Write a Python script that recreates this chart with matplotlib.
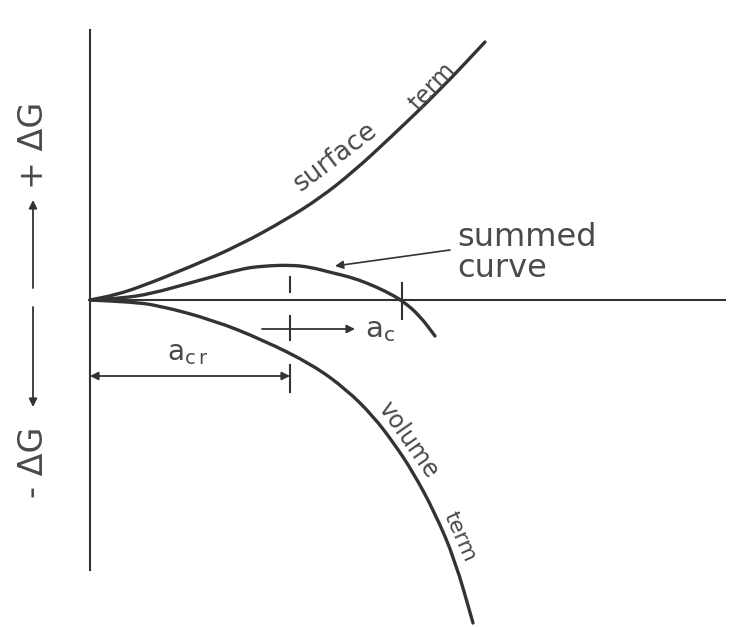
import matplotlib
matplotlib.use("Agg")
import matplotlib.pyplot as plt
from matplotlib.path import Path
from matplotlib.patches import PathPatch

# Free energy of an embryo vs. radius (arbitrary units, origin at axis crossing)
surface_r = [0, 0.25, 0.50, 1.00, 1.50, 1.97, 2.30, 2.63, 3.00, 3.50, 3.95]
surface_g = [0, 0.05, 0.13, 0.33, 0.55, 0.81, 1.02, 1.28, 1.62, 2.10, 2.58]

volume_r = [0, 0.40, 0.67, 1.23, 1.73, 2.23, 2.57, 2.83, 3.03, 3.23, 3.45, 3.65, 3.83]
volume_g = [0, -0.02, -0.05, -0.20, -0.40, -0.65, -0.90, -1.16, -1.42, -1.72, -2.13, -2.60, -3.23]

summed_r = [0, 0.33, 0.60, 1.00, 1.50, 1.73, 2.00, 2.20, 2.43, 2.60, 2.77, 2.95, 3.13, 3.30, 3.45]
summed_g = [0, 0.02, 0.06, 0.17, 0.31, 0.34, 0.35, 0.33, 0.27, 0.23, 0.17, 0.09, -0.01, -0.16, -0.36]

a_cr = 2.0     # critical radius (maximum of summed curve)
a_c = 3.12     # radius where summed curve crosses zero

ink = "#333333"
txt = "#4a4a4a"


def smooth_path(xs, ys):
    # quadratic bezier through the midpoints, using the read points as controls
    pts = list(zip(xs, ys))
    verts = [pts[0]]
    codes = [Path.MOVETO]
    mid = lambda a, b: ((a[0] + b[0]) / 2, (a[1] + b[1]) / 2)
    verts.append(mid(pts[0], pts[1]))
    codes.append(Path.LINETO)
    for i in range(1, len(pts) - 1):
        verts += [pts[i], mid(pts[i], pts[i + 1])]
        codes += [Path.CURVE3, Path.CURVE3]
    verts.append(pts[-1])
    codes.append(Path.LINETO)
    return Path(verts, codes)


fig = plt.figure(figsize=(7.37, 6.27), dpi=100)
ax = fig.add_axes([0, 0, 1, 1])
ax.set_xlim(-0.9, 6.47)
ax.set_ylim(-3.27, 3.0)
ax.axis("off")

# axes
ax.plot([0, 6.35], [0, 0], color=ink, lw=1.5)
ax.plot([0, 0], [-2.7, 2.7], color=ink, lw=1.5)

# curves
for r, g in [(surface_r, surface_g), (volume_r, volume_g), (summed_r, summed_g)]:
    ax.add_patch(PathPatch(smooth_path(r, g), fill=False, edgecolor=ink,
                           lw=2.4, capstyle="round", joinstyle="round"))

# markers for a_cr
ax.plot([a_cr, a_cr], [0.08, 0.23], color=ink, lw=1.5)
ax.plot([a_cr, a_cr], [-0.16, -0.40], color=ink, lw=1.5)
ax.plot([a_cr, a_cr], [-0.65, -0.92], color=ink, lw=1.5)
ax.annotate("", xy=(0, -0.76), xytext=(a_cr, -0.76),
            arrowprops=dict(arrowstyle="<|-|>", color=ink, lw=1.3,
                            shrinkA=0, shrinkB=0, mutation_scale=12))
ax.text(a_cr / 2 - 0.02, -0.53, r"$\mathregular{a_{c\,r}}$", color=txt,
        fontsize=20, ha="center", va="center")

# marker for a_c
ax.plot([a_c, a_c], [0.17, -0.19], color=ink, lw=1.5)
ax.annotate("", xy=(2.65, -0.29), xytext=(1.72, -0.29),
            arrowprops=dict(arrowstyle="-|>", color=ink, lw=1.3,
                            shrinkA=0, shrinkB=0, mutation_scale=12))
ax.text(2.75, -0.30, r"$\mathregular{a_c}$", color=txt, fontsize=21,
        ha="left", va="center")

# curve labels
ax.text(2.45, 1.43, "surface", color=txt, fontsize=19, rotation=37,
        ha="center", va="center")
ax.text(3.42, 2.13, "term", color=txt, fontsize=17, rotation=47,
        ha="center", va="center")
ax.text(3.18, -1.40, "volume", color=txt, fontsize=17, rotation=-55,
        ha="center", va="center")
ax.text(3.70, -2.37, "term", color=txt, fontsize=16, rotation=-66,
        ha="center", va="center")

ax.annotate("", xy=(2.45, 0.34), xytext=(3.6, 0.5),
            arrowprops=dict(arrowstyle="-|>", color=ink, lw=1.2,
                            shrinkA=0, shrinkB=0, mutation_scale=12))
ax.text(3.67, 0.62, "summed", color=txt, fontsize=23, ha="left", va="center")
ax.text(3.67, 0.31, "curve", color=txt, fontsize=23, ha="left", va="center")

# vertical axis legend
ax.text(-0.56, 1.55, "+ ΔG", color=txt, fontsize=24, rotation=90,
        ha="center", va="center")
ax.text(-0.56, -1.62, "- ΔG", color=txt, fontsize=24, rotation=90,
        ha="center", va="center")
ax.annotate("", xy=(-0.57, 1.0), xytext=(-0.57, 0.12),
            arrowprops=dict(arrowstyle="-|>", color=ink, lw=1.3,
                            shrinkA=0, shrinkB=0, mutation_scale=12))
ax.annotate("", xy=(-0.57, -1.07), xytext=(-0.57, -0.07),
            arrowprops=dict(arrowstyle="-|>", color=ink, lw=1.3,
                            shrinkA=0, shrinkB=0, mutation_scale=12))

fig.savefig("out.png", dpi=100, facecolor="white")
